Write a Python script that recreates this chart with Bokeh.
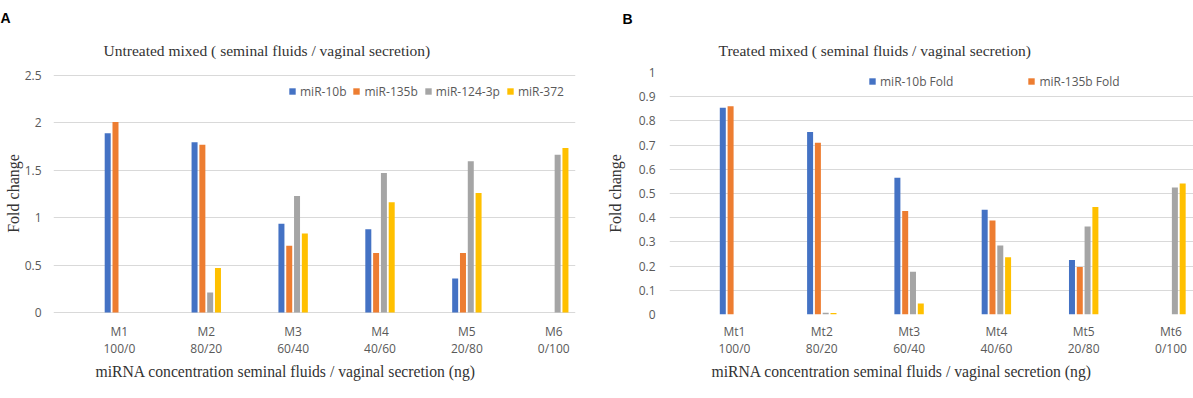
from bokeh.plotting import figure
from bokeh.models import ColumnDataSource, Legend, LegendItem, FixedTicker, Range1d, Title
from bokeh.layouts import row
from bokeh.embed import file_html
from bokeh.resources import INLINE

# ---------------- data ----------------
groups_A = ["M1", "M2", "M3", "M4", "M5", "M6"]
groups_B = ["Mt1", "Mt2", "Mt3", "Mt4", "Mt5", "Mt6"]
ratios = ["100/0", "80/20", "60/40", "40/60", "20/80", "0/100"]

series_A = ["miR-10b", "miR-135b", "miR-124-3p", "miR-372"]
A_mir10b = [1.89, 1.795, 0.937, 0.877, 0.359, 0.0]
A_mir135b = [2.01, 1.77, 0.704, 0.627, 0.627, 0.0]
A_mir124 = [0.0, 0.21, 1.229, 1.472, 1.595, 1.665]
A_mir372 = [0.0, 0.47, 0.834, 1.162, 1.261, 1.736]

series_B = ["miR-10b Fold", "miR-135b Fold", "miR-124-3p Fold", "miR-372 Fold"]
B_mir10b = [0.854, 0.754, 0.565, 0.433, 0.225, 0.0]
B_mir135b = [0.861, 0.710, 0.428, 0.388, 0.196, 0.0]
B_mir124 = [0.0, 0.007, 0.177, 0.285, 0.364, 0.525]
B_mir372 = [0.0, 0.006, 0.045, 0.237, 0.444, 0.541]

yticks_A = [0, 0.5, 1, 1.5, 2, 2.5]
ytick_labels_A = ["0", "0.5", "1", "1.5", "2", "2.5"]
yticks_B = [0, 0.1, 0.2, 0.3, 0.4, 0.5, 0.6, 0.7, 0.8, 0.9, 1]
ytick_labels_B = ["0", "0.1", "0.2", "0.3", "0.4", "0.5", "0.6", "0.7", "0.8", "0.9", "1"]

colors = ["#4472C4", "#ED7D31", "#A5A5A5", "#FFC000"]

SANS = "Open Sans"
SERIF = "Liberation Serif"
TICK_COLOR = "#595959"
TEXT_COLOR = "#333333"
GRID_COLOR = "#D9D9D9"
H = 398
MB_TOP = 72      # both frames share the same top / bottom in a row
MB_BOTTOM = 84


def panel(groups, series_names, values, yticks, ylabels, yrange, fig_left, fig_w,
          mb_left, mb_right, x_range,
          title, letter, title_offset, title_standoff, letter_offset, letter_standoff,
          xtick_standoff, xlabel_offset, ytick_standoff, ylabel_standoff,
          legend_count, legend_loc, legend_spacing, pitch_px, width_px):
    p = figure(width=fig_w, height=H, output_backend="svg", toolbar_location=None,
               title=None,
               x_range=Range1d(*x_range), y_range=Range1d(*yrange),
               min_border_left=mb_left, min_border_right=mb_right,
               min_border_top=MB_TOP, min_border_bottom=MB_BOTTOM)
    p.outline_line_color = None
    p.background_fill_color = "white"
    p.border_fill_color = "white"

    frame_w = fig_w - mb_left - mb_right
    unit_px = frame_w / (x_range[1] - x_range[0])
    pitch = pitch_px / unit_px
    bw = width_px / unit_px

    renderers = []
    for i, (name, vals) in enumerate(zip(series_names, values)):
        xs = [k + (i - 1.5) * pitch for k in range(len(groups))]
        src = ColumnDataSource(dict(x=xs, top=vals))
        r = p.vbar(x="x", top="top", bottom=0, width=bw, source=src, fill_color=colors[i],
                   line_color=None)
        renderers.append(r)

    # axes
    p.xaxis.ticker = FixedTicker(ticks=list(range(len(groups))))
    p.xaxis.major_label_overrides = {k: f"{g}\n{r}" for k, (g, r) in enumerate(zip(groups, ratios))}
    p.yaxis.ticker = FixedTicker(ticks=yticks)
    p.yaxis.major_label_overrides = {t: l for t, l in zip(yticks, ylabels)}
    for ax in (p.xaxis[0], p.yaxis[0]):
        ax.axis_line_color = None
        ax.major_tick_line_color = None
        ax.minor_tick_line_color = None
        ax.major_tick_out = 0
        ax.major_tick_in = 0
        ax.minor_tick_out = 0
        ax.major_label_text_font = SANS
        ax.major_label_text_font_size = "12px"
        ax.major_label_text_color = TICK_COLOR
    p.xaxis.major_label_standoff = xtick_standoff
    p.xaxis.major_label_text_line_height = 1.05
    p.yaxis.major_label_standoff = ytick_standoff
    p.yaxis.axis_label = "Fold change"
    p.yaxis.axis_label_standoff = ylabel_standoff
    p.yaxis.axis_label_text_font = SERIF
    p.yaxis.axis_label_text_font_size = "16px"
    p.yaxis.axis_label_text_font_style = "normal"
    p.yaxis.axis_label_text_color = TEXT_COLOR
    p.xgrid.grid_line_color = None
    p.ygrid.grid_line_color = GRID_COLOR
    p.ygrid.grid_line_width = 1

    # titles (first added sits closest to the frame)
    p.add_layout(Title(text=title, align="left", offset=title_offset, standoff=title_standoff,
                       text_font=SERIF, text_font_size="15.5px", text_font_style="normal",
                       text_color=TEXT_COLOR), "above")
    p.add_layout(Title(text=letter, align="left", offset=letter_offset, standoff=letter_standoff,
                       text_font="Liberation Sans", text_font_size="14px",
                       text_font_style="bold", text_color="#000000"), "above")
    p.add_layout(Title(text="miRNA concentration seminal fluids / vaginal secretion (ng)",
                       align="left", offset=xlabel_offset, standoff=0,
                       text_font=SERIF, text_font_size="15.7px", text_font_style="normal",
                       text_color=TEXT_COLOR), "below")

    # legend (position given in page pixels, converted to frame-relative pixels)
    items = [LegendItem(label=series_names[i], renderers=[renderers[i]]) for i in range(legend_count)]
    frame_b = H - MB_BOTTOM
    lx = legend_loc[0] - (fig_left + mb_left)
    ly = frame_b - legend_loc[1]
    legend = Legend(items=items, orientation="horizontal", location=(lx, ly),
                    border_line_color=None, background_fill_alpha=0,
                    padding=0, margin=0, spacing=legend_spacing,
                    glyph_width=8, glyph_height=8, label_standoff=4,
                    label_height=8,
                    label_text_font=SANS, label_text_font_size="12px",
                    label_text_color=TICK_COLOR)
    p.add_layout(legend, "center")
    return p


pA = panel(groups_A, series_A, [A_mir10b, A_mir135b, A_mir124, A_mir372],
           yticks_A, ytick_labels_A, (-0.0211, 2.5316), 0, 603,
           53, 28, (-0.7586, 5.2504),
           "Untreated mixed ( seminal fluids / vaginal secretion)", "A",
           50, 28, -53, 0, 8, 42, 12, 0,
           4, (288, 99.7), 6, 7.8, 6)

pB = panel(groups_B, series_B, [B_mir10b, B_mir135b, B_mir124, B_mir372],
           yticks_B, ytick_labels_B, (0, 1), 603, 590,
           66, 0, (-0.7446, 5.258),
           "Treated mixed ( seminal fluids / vaginal secretion)", "B",
           49, 27, -47, 0, 8, 42, 14, 12,
           2, (868, 89.5), 74, 7.8, 6)

layout = row(pA, pB)
open("out.html", "w").write(file_html(layout, INLINE))
